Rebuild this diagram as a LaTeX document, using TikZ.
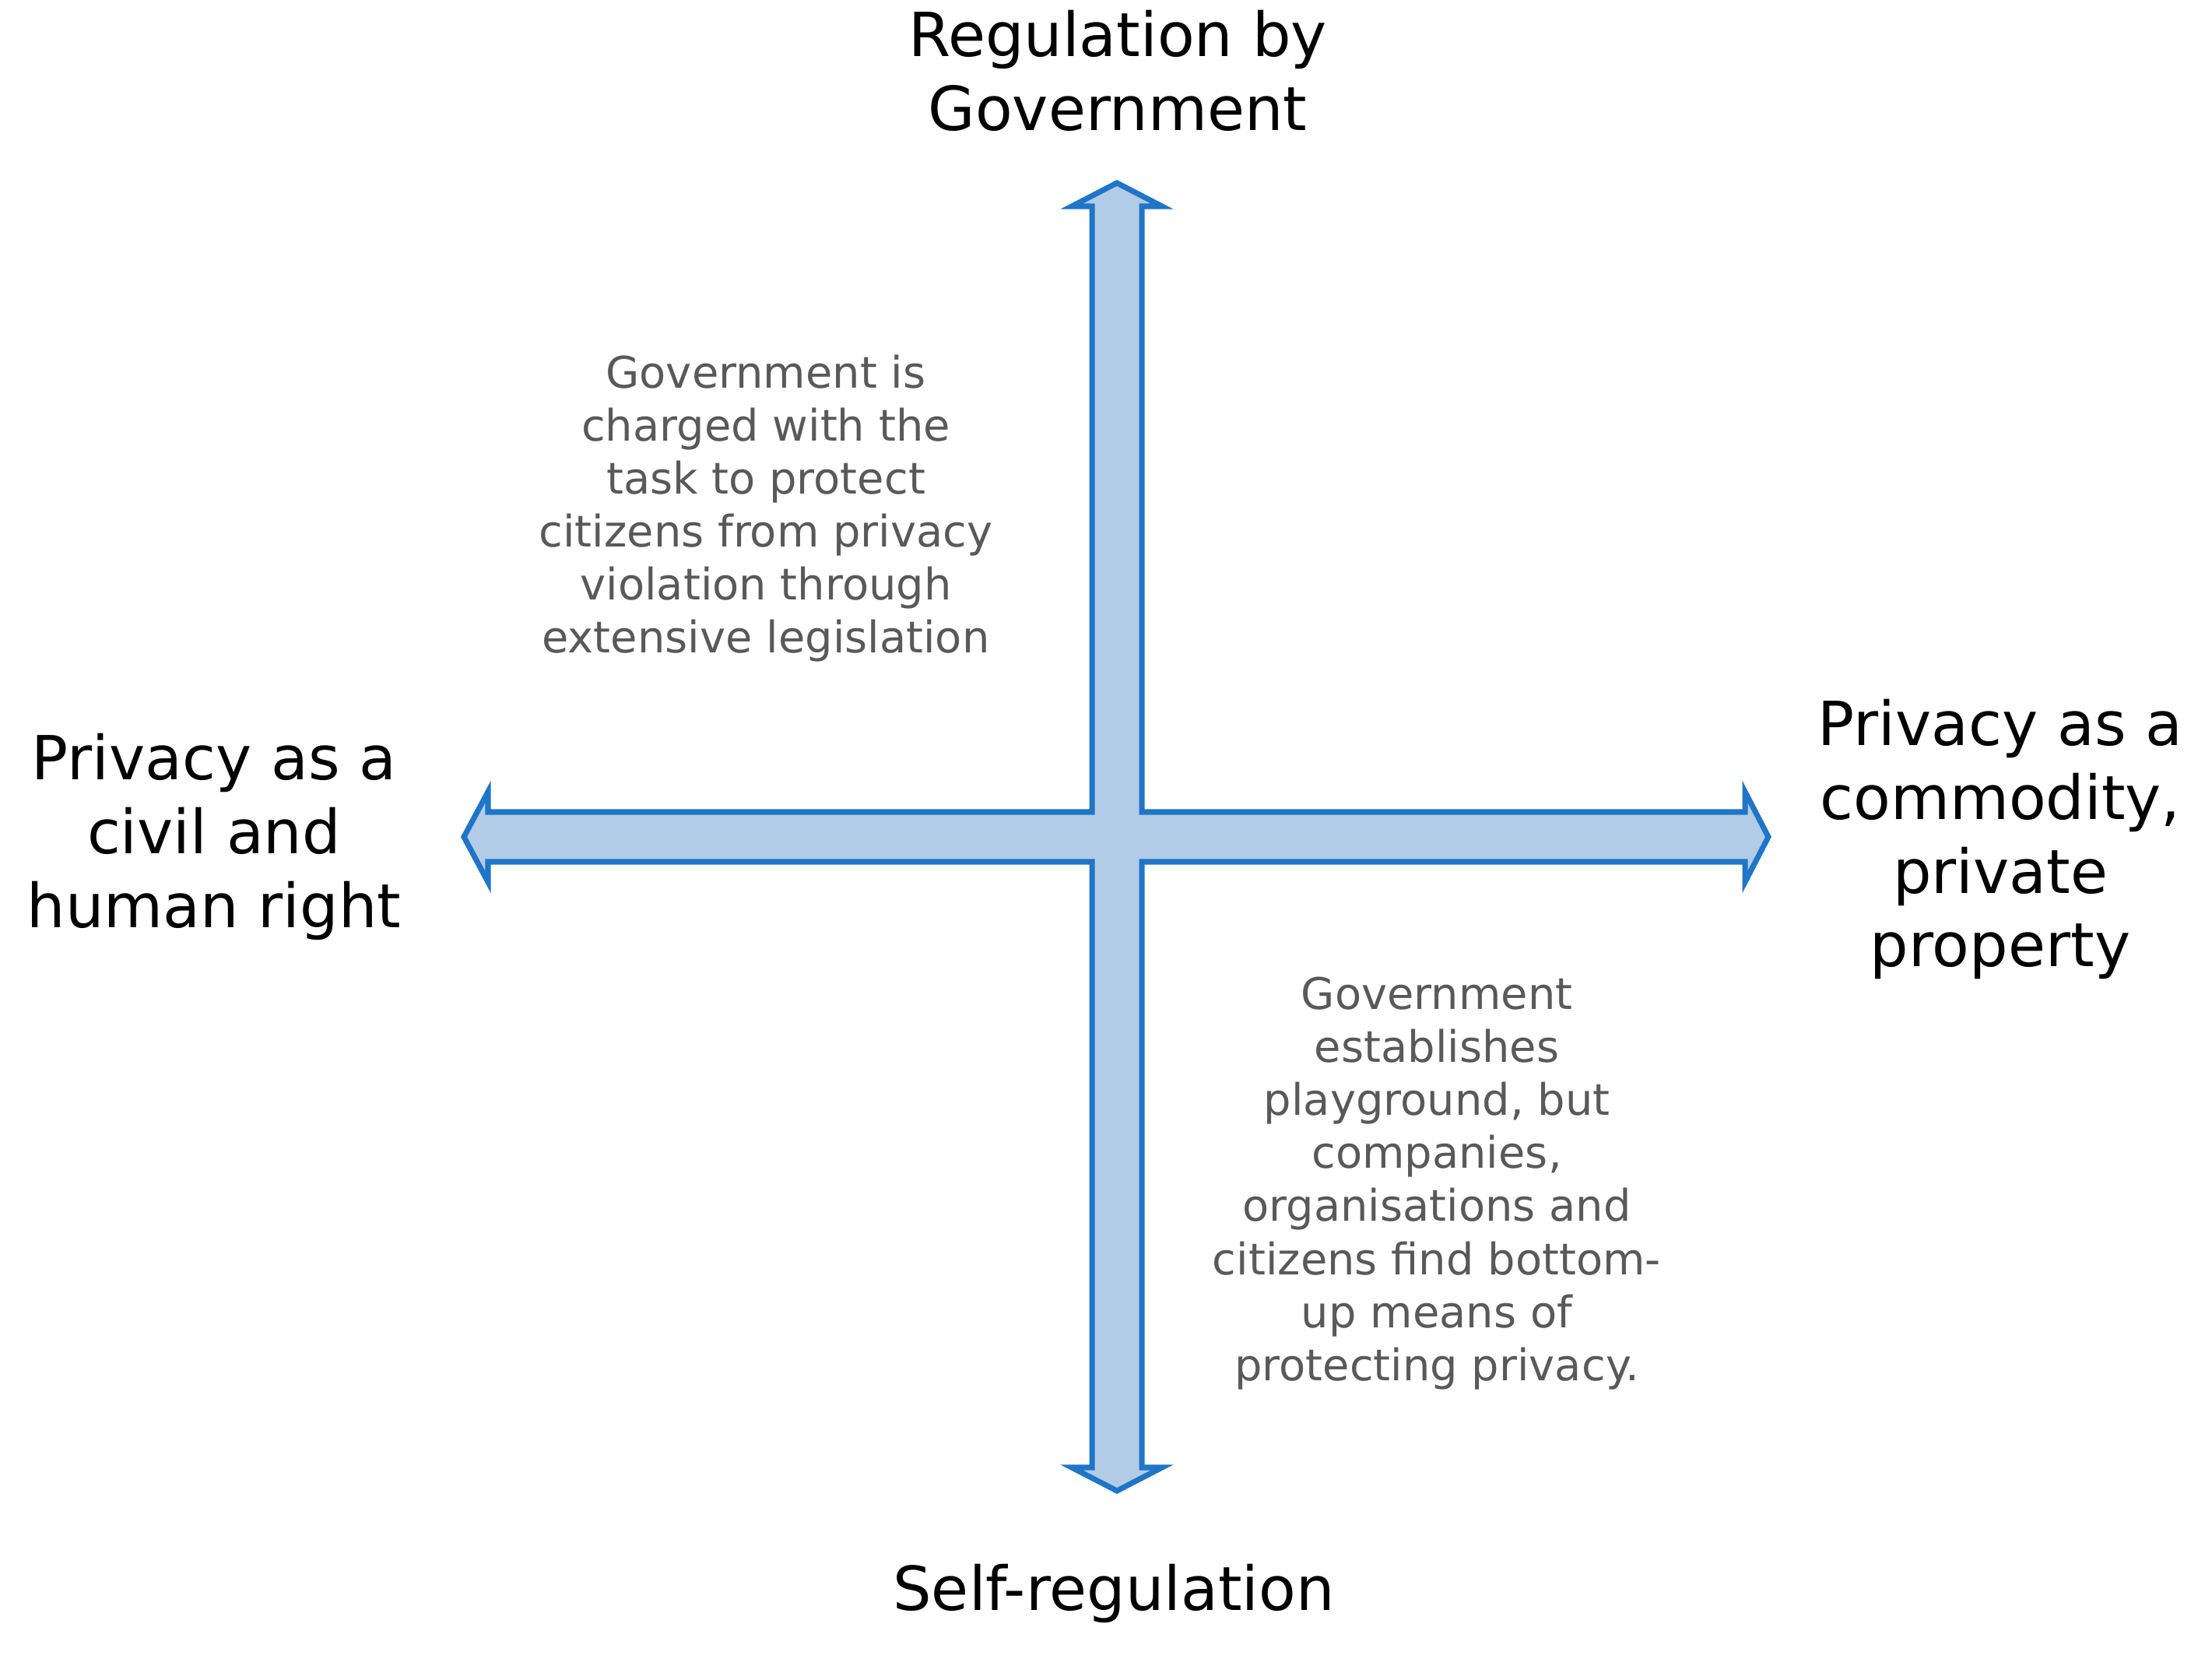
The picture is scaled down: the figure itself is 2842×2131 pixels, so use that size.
\documentclass[tikz,border=0pt]{standalone}
\usepackage{fontspec}
\setmainfont{DejaVu Sans}
\usepackage{tikz}
\definecolor{crossfill}{RGB}{178,203,230}
\definecolor{crossline}{RGB}{31,117,199}
\definecolor{notegray}{RGB}{89,89,89}

\begin{document}
\begin{tikzpicture}[x=0.01cm,y=-0.01cm,
		axislabel/.style={align=center,inner sep=0pt,font=\fontsize{22.2}{27}\selectfont},
		notetext/.style={align=center,inner sep=0pt,text=notegray,font=\fontsize{15.9}{19.35}\selectfont}]
			\useasboundingbox (0,0) rectangle (2842,2131);
			
			% the cross of four arrows
			\draw[crossline, fill=crossfill, line width=2pt, line join=miter]
				(1403,1043) -- (1403,265) -- (1377,265) -- (1435,235) -- (1493,265) -- (1467,265) -- (1467,1043)
				-- (2242,1043) -- (2242,1017) -- (2272,1075) -- (2242,1133) -- (2242,1107) -- (1467,1107)
				-- (1467,1885) -- (1493,1885) -- (1435,1915) -- (1377,1885) -- (1403,1885) -- (1403,1107)
				-- (627,1107) -- (627,1133) -- (596,1075) -- (627,1017) -- (627,1043) -- cycle;
			
			\node[axislabel] (gov) at (1436,91) {Regulation by\\Government};
			\node[axislabel] (self) at (1431,2047) {Self-regulation};
			\node[axislabel] (civil) at (275,1075) {Privacy as a\\civil and\\human right};
			\node[axislabel] (commodity) at (2570,1078) {Privacy as a\\commodity,\\private\\property};
			
			\node[notetext] (topnote) at (984,653) {Government is\\charged with the\\task to protect\\citizens from privacy\\violation through\\extensive legislation};
			\node[notetext] (botnote) at (1846,1520) {Government\\establishes\\playground, but\\companies,\\organisations and\\citizens find bottom-\\up means of\\protecting privacy.};
		\end{tikzpicture}
\end{document}
